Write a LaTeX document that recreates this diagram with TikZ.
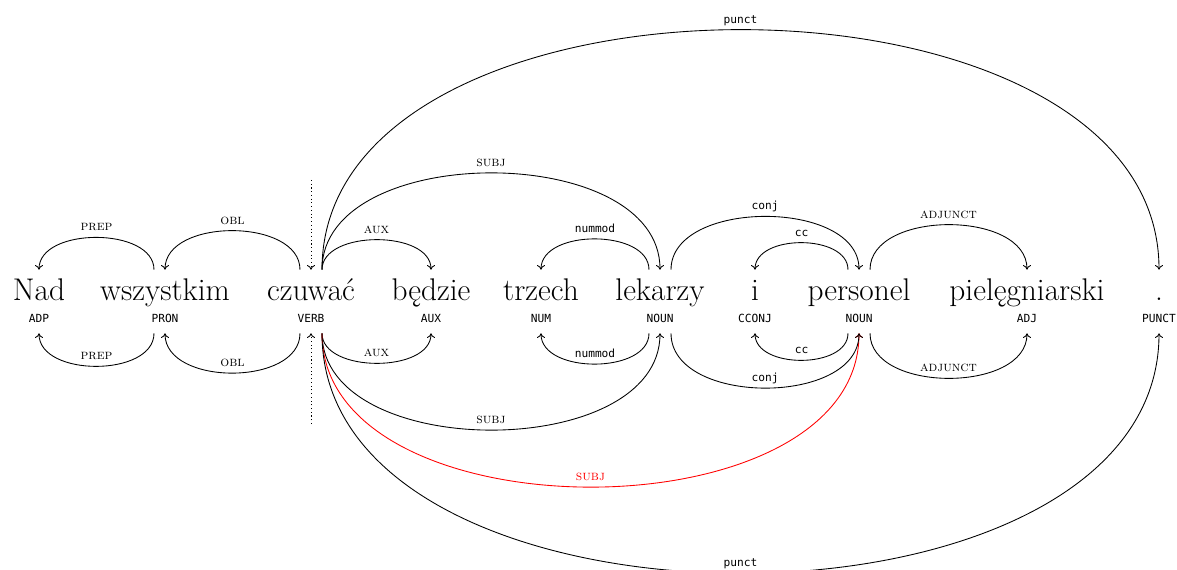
\documentclass[tikz,border=0pt]{standalone}
\usepackage{fontspec}
\setmonofont{DejaVu Sans Mono}
\usetikzlibrary{arrows.meta}
\begin{document}
\begin{tikzpicture}[x=0.75pt,y=-0.75pt,
  word/.style={font=\fontsize{23.5}{28}\selectfont, inner sep=0pt, text height=22.5pt, text depth=6pt, anchor=base},
  tag/.style={font=\fontsize{8.4}{10}\selectfont\ttfamily, inner sep=0pt, text height=7pt, text depth=8.25pt, anchor=base},
  dep/.style={line width=0.65pt, -{To[length=3.5pt,width=6pt]}},
  sclab/.style={midway, anchor=base, yshift=5pt, inner sep=0pt, font=\fontsize{10.5}{12}\selectfont\scshape},
  ttlab/.style={midway, anchor=base, yshift=5pt, inner sep=0pt, font=\fontsize{8.4}{10}\selectfont\ttfamily},
  rootarr/.style={line width=0.65pt, dash pattern=on 0.8pt off 2pt, -{To[length=3.5pt,width=6pt]}},
  redc/.style={red}
]
\useasboundingbox (0,0) rectangle (1177,570);

% words
\node[word] (w1) at (39,300) {Nad};
\node[word] (w2) at (165,300) {wszystkim};
\node[word] (w3) at (311,300) {czuwać};
\node[word] (w4) at (431,300) {będzie};
\node[word] (w5) at (541,300) {trzech};
\node[word] (w6) at (660,300) {lekarzy};
\node[word] (w7) at (755,300) {i};
\node[word] (w8) at (859,300) {personel};
\node[word] (w9) at (1027,300) {pielęgniarski};
\node[word] (w10) at (1159,300) {.};

% tags
\node[tag] (t1) at (39,322) {ADP};
\node[tag] (t2) at (165,322) {PRON};
\node[tag] (t3) at (311,322) {VERB};
\node[tag] (t4) at (431,322) {AUX};
\node[tag] (t5) at (541,322) {NUM};
\node[tag] (t6) at (660,322) {NOUN};
\node[tag] (t7) at (755,322) {CCONJ};
\node[tag] (t8) at (859,322) {NOUN};
\node[tag] (t9) at (1027,322) {ADJ};
\node[tag] (t10) at (1159,322) {PUNCT};

% root markers
\coordinate (rootA) at (311,180);
\coordinate (rootB) at (311,424);
\draw[rootarr] (rootA) -- (w3.north);
\draw[rootarr] (rootB) -- (t3.south);

% top arcs
\draw[dep] ([xshift=-8.25pt]w2.north) .. controls +(0,-43) and +(0,-43) .. (w1.north) node[sclab]{prep};
\draw[dep] ([xshift=-8.25pt]w3.north) .. controls +(0,-52) and +(0,-52) .. (w2.north) node[sclab]{obl};
\draw[dep] ([xshift=8.25pt]w3.north) .. controls +(0,-40) and +(0,-40) .. (w4.north) node[sclab]{aux};
\draw[dep] ([xshift=8.25pt]w3.north) .. controls +(0,-129) and +(0,-129) .. (w6.north) node[sclab]{subj};
\draw[dep] ([xshift=8.25pt]w3.north) .. controls +(0,-320) and +(0,-320) .. (w10.north) node[ttlab]{punct};
\draw[dep] ([xshift=-8.25pt]w6.north) .. controls +(0,-41) and +(0,-41) .. (w5.north) node[ttlab]{nummod};
\draw[dep] ([xshift=8.25pt]w6.north) .. controls +(0,-71) and +(0,-71) .. (w8.north) node[ttlab]{conj};
\draw[dep] ([xshift=-8.25pt]w8.north) .. controls +(0,-36) and +(0,-36) .. (w7.north) node[ttlab]{cc};
\draw[dep] ([xshift=8.25pt]w8.north) .. controls +(0,-60) and +(0,-60) .. (w9.north) node[sclab]{adjunct};

% bottom arcs
\draw[dep] ([xshift=-8.25pt]t2.south) .. controls +(0,44) and +(0,44) .. (t1.south) node[sclab]{prep};
\draw[dep] ([xshift=-8.25pt]t3.south) .. controls +(0,53) and +(0,53) .. (t2.south) node[sclab]{obl};
\draw[dep] ([xshift=8.25pt]t3.south) .. controls +(0,40) and +(0,40) .. (t4.south) node[sclab]{aux};
\draw[dep] ([xshift=8.25pt]t3.south) .. controls +(0,129) and +(0,129) .. (t6.south) node[sclab]{subj};
\draw[dep,redc] ([xshift=8.25pt]t3.south) .. controls +(0,205) and +(0,205) .. (t8.south) node[sclab,redc]{subj};
\draw[dep] ([xshift=8.25pt]t3.south) .. controls +(0,320) and +(0,320) .. (t10.south) node[ttlab]{punct};
\draw[dep] ([xshift=-8.25pt]t6.south) .. controls +(0,41) and +(0,41) .. (t5.south) node[ttlab]{nummod};
\draw[dep] ([xshift=8.25pt]t6.south) .. controls +(0,73) and +(0,73) .. (t8.south) node[ttlab]{conj};
\draw[dep] ([xshift=-8.25pt]t8.south) .. controls +(0,36) and +(0,36) .. (t7.south) node[ttlab]{cc};
\draw[dep] ([xshift=8.25pt]t8.south) .. controls +(0,60) and +(0,60) .. (t9.south) node[sclab]{adjunct};
\end{tikzpicture}
\end{document}
